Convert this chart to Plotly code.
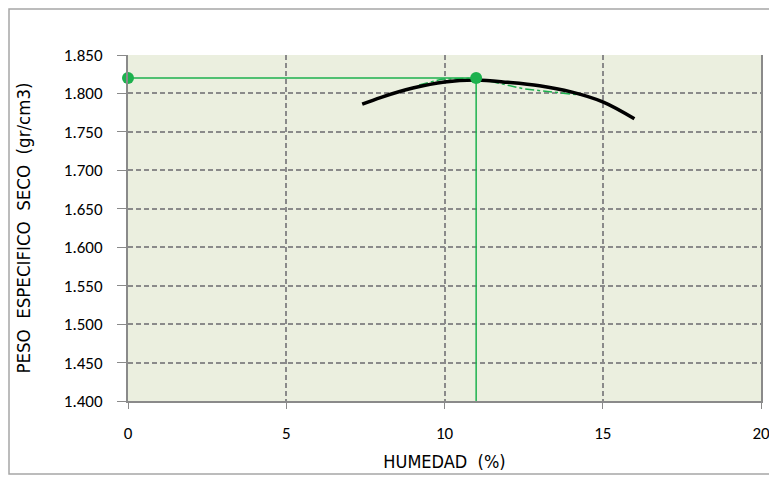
import plotly.graph_objects as go

# Black fitted curve
curve_x = [7.4, 8.0, 9.0, 10.0, 11.0, 12.0, 13.0, 14.0, 15.0, 16.0]
curve_y = [1.786, 1.795, 1.807, 1.815, 1.8175, 1.8145, 1.810, 1.802, 1.789, 1.767]

# Green dash-dot data line
data_x = [9.2, 9.9, 11.0, 12.5, 14.5]
data_y = [1.811, 1.8185, 1.820, 1.806, 1.797]

# Maximum point
max_x = 11.0
max_y = 1.820

x_ticks = [0, 5, 10, 15, 20]
y_ticks = [1.400, 1.450, 1.500, 1.550, 1.600, 1.650, 1.700, 1.750, 1.800, 1.850]

GREEN = "#1DB14E"
GRID = "#8A8A8A"
TITLE_FONT = "Liberation Sans Narrow, DejaVu Sans Condensed, sans-serif"

# page body has an 8px default margin: figure is laid out in its own pixel frame
W, H = 769, 471
L, T, R, B = 120, 47, 16, 78
PW, PH = W - L - R, H - T - B

fig = go.Figure()

fig.add_trace(go.Scatter(x=data_x, y=data_y, mode="lines",
                         line=dict(color=GREEN, width=1.5, dash="dashdot"),
                         showlegend=False, hoverinfo="skip"))
fig.add_trace(go.Scatter(x=curve_x, y=curve_y, mode="lines",
                         line=dict(color="black", width=3.5, shape="spline"),
                         showlegend=False))
fig.add_trace(go.Scatter(x=[0, max_x], y=[max_y, max_y], mode="lines",
                         line=dict(color=GREEN, width=1.5),
                         showlegend=False, hoverinfo="skip"))
fig.add_trace(go.Scatter(x=[max_x, max_x], y=[y_ticks[0], max_y], mode="lines",
                         line=dict(color=GREEN, width=1.5),
                         showlegend=False, hoverinfo="skip"))
fig.add_trace(go.Scatter(x=[0, max_x], y=[max_y, max_y], mode="markers",
                         marker=dict(color=GREEN, size=12),
                         showlegend=False, cliponaxis=False))

fig.update_layout(
    width=W, height=H,
    margin=dict(l=L, r=R, t=T, b=B, autoexpand=False),
    paper_bgcolor="white",
    plot_bgcolor="#EBEFDF",
    font=dict(family="Carlito, Lato, Liberation Sans, sans-serif", size=17, color="black"),
    xaxis=dict(
        range=[0, 20], tickvals=x_ticks, ticktext=[str(v) for v in x_ticks],
        showgrid=True, gridcolor=GRID, griddash="5px,3px", gridwidth=1.5,
        showline=True, linecolor=GRID, linewidth=2, mirror=False,
        ticks="outside", ticklen=6, tickcolor=GRID, ticklabelstandoff=10,
        zeroline=False,
        title=dict(text="HUMEDAD  (%)", standoff=12,
                   font=dict(family=TITLE_FONT, size=18)),
    ),
    yaxis=dict(
        range=[1.400, 1.850], tickvals=y_ticks,
        ticktext=[f"{v:.3f}" for v in y_ticks],
        showgrid=True, gridcolor=GRID, griddash="5px,3px", gridwidth=1.5,
        showline=True, linecolor=GRID, linewidth=2, mirror=True,
        ticks="outside", ticklen=9, tickcolor=GRID, ticklabelstandoff=11,
        zeroline=False,
        title=dict(text="PESO  ESPECIFICO  SECO  (gr/cm3)", standoff=28,
                   font=dict(family=TITLE_FONT, size=18.5)),
    ),
    shapes=[dict(type="rect", xref="paper", yref="paper",
                 x0=(1 - L) / PW, x1=(768 - L) / PW,
                 y0=-(466 - (H - B)) / PH, y1=(H - B - 1) / PH,
                 line=dict(color="#A6A6A6", width=1.5), layer="below")],
)

fig.write_html("out.html")
